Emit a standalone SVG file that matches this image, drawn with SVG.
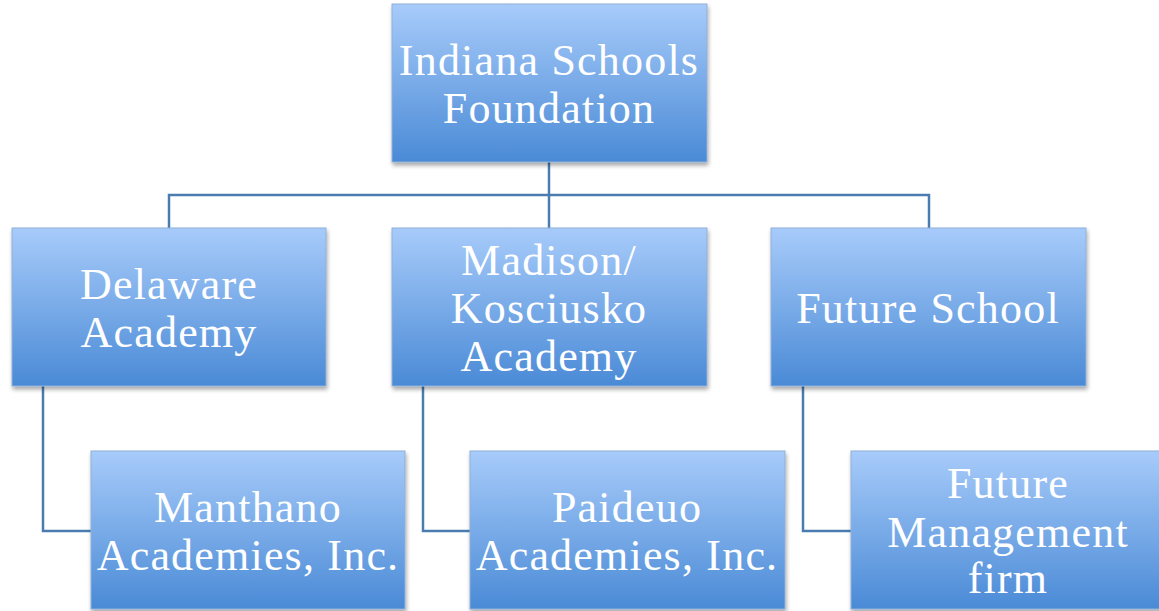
<svg xmlns="http://www.w3.org/2000/svg" width="1159" height="611" viewBox="0 0 1159 611">
  <defs>
    <linearGradient id="boxFill" x1="0" y1="0" x2="0" y2="1">
      <stop offset="0" stop-color="#a7cbfa"/>
      <stop offset="0.5" stop-color="#79abe8"/>
      <stop offset="1" stop-color="#4a8ad6"/>
    </linearGradient>
    <filter id="shadow" x="-5%" y="-5%" width="112%" height="115%">
      <feGaussianBlur in="SourceAlpha" stdDeviation="2"/>
      <feOffset dx="1" dy="3" result="b"/>
      <feComponentTransfer><feFuncA type="linear" slope="0.35"/></feComponentTransfer>
      <feMerge><feMergeNode/><feMergeNode in="SourceGraphic"/></feMerge>
    </filter>
    <style>
      .box { fill: url(#boxFill); stroke: #8fb0d8; stroke-width: 1; filter: url(#shadow); }
      .lbl { font-family: "Liberation Serif", "DejaVu Serif", serif; font-size: 44px; letter-spacing: 1.2px; fill: #ffffff; text-anchor: middle; }
      .wire { fill: none; stroke: #4a7cb0; stroke-width: 2.5; }
    </style>
  </defs>
  <rect width="1159" height="611" fill="#ffffff"/>

  <g id="connectors">
    <path class="wire" d="M549 162 V228"/>
    <path class="wire" d="M169 228 V195 H929 V228"/>
    <path class="wire" d="M43 386 V531 H91"/>
    <path class="wire" d="M423 386 V531 H470"/>
    <path class="wire" d="M803 386 V531 H851"/>
  </g>

  <g id="foundation">
    <rect class="box" x="392" y="4" width="315" height="158"/>
    <text class="lbl" x="549" y="75">Indiana Schools</text>
    <text class="lbl" x="549" y="123">Foundation</text>
  </g>

  <g id="delaware">
    <rect class="box" x="12" y="228" width="314" height="158"/>
    <text class="lbl" x="169" y="299">Delaware</text>
    <text class="lbl" x="169" y="347">Academy</text>
  </g>

  <g id="madison">
    <rect class="box" x="392" y="228" width="315" height="158"/>
    <text class="lbl" x="549" y="275">Madison/</text>
    <text class="lbl" x="549" y="323">Kosciusko</text>
    <text class="lbl" x="549" y="371">Academy</text>
  </g>

  <g id="future-school">
    <rect class="box" x="771" y="228" width="315" height="158"/>
    <text class="lbl" x="928" y="323">Future School</text>
  </g>

  <g id="manthano">
    <rect class="box" x="91" y="451" width="314" height="158"/>
    <text class="lbl" x="248" y="522">Manthano</text>
    <text class="lbl" x="248" y="570">Academies, Inc.</text>
  </g>

  <g id="paideuo">
    <rect class="box" x="470" y="451" width="315" height="158"/>
    <text class="lbl" x="627" y="522">Paideuo</text>
    <text class="lbl" x="627" y="570">Academies, Inc.</text>
  </g>

  <g id="future-management">
    <rect class="box" x="851" y="451" width="315" height="158"/>
    <text class="lbl" x="1008" y="498">Future</text>
    <text class="lbl" x="1008" y="547">Management</text>
    <text class="lbl" x="1008" y="593">firm</text>
  </g>
</svg>
